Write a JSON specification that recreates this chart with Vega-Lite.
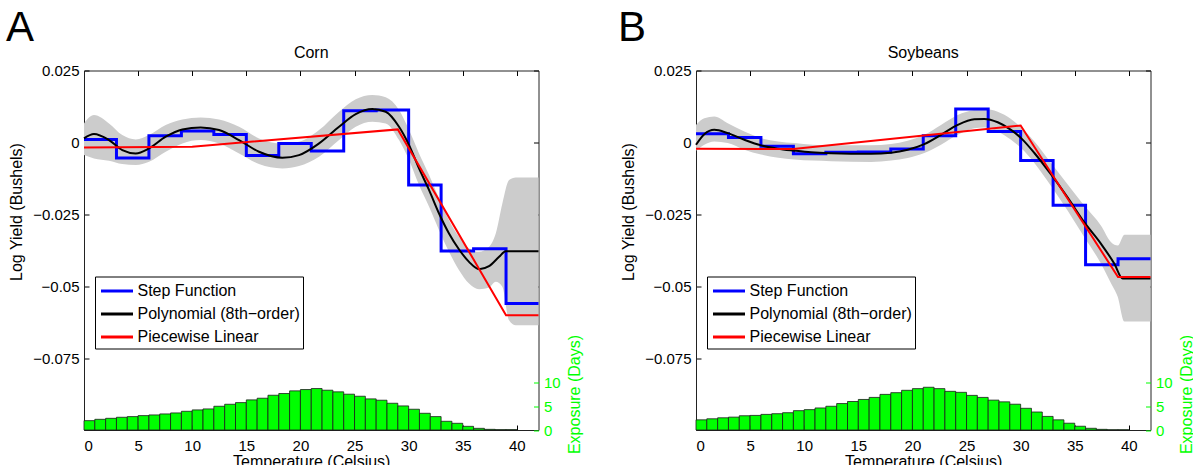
{
  "$schema": "https://vega.github.io/schema/vega-lite/v6.json",
  "padding": {"left": 6, "top": 6.5, "right": 0, "bottom": 0},
  "config": {
    "font": "Liberation Sans",
    "view": {"stroke": null},
    "axis": {"grid": false, "domain": false, "labelFont": "Liberation Sans", "titleFont": "Liberation Sans", "labelFontSize": 15, "titleFontSize": 16, "titleFontWeight": "normal", "labelColor": "#000000", "titleColor": "#000000", "tickColor": "#000000", "domainColor": "#222222"},
    "title": {"font": "Liberation Sans", "fontWeight": "normal", "color": "#000000"},
    "legend": {"orient": "none", "legendX": 11, "legendY": 206, "strokeColor": "#000000", "fillColor": "#ffffff", "padding": 3, "symbolType": "M-1.6,0H1.6", "symbolSize": 400, "symbolStrokeWidth": 3, "labelFontSize": 16, "labelFont": "Liberation Sans", "labelColor": "#000000", "rowPadding": 3, "labelOffset": 9, "symbolOffset": 7.5, "labelLimit": 400, "cornerRadius": 0}
  },
  "datasets": {
    "cornStep": [
      {"t": 0, "v": 0.00104}, {"t": 3, "v": -0.00545}, {"t": 6, "v": 0.00232}, {"t": 9, "v": 0.00394},
      {"t": 12, "v": 0.00278}, {"t": 15, "v": -0.00452}, {"t": 18, "v": -0.00035}, {"t": 21, "v": -0.00302},
      {"t": 24, "v": 0.0110}, {"t": 27, "v": 0.0113}, {"t": 30, "v": -0.01485}, {"t": 33, "v": -0.0378},
      {"t": 36, "v": -0.0370}, {"t": 39, "v": -0.0560}, {"t": 42, "v": -0.0560}
    ],
    "soyStep": [
      {"t": 0, "v": 0.00299}, {"t": 3, "v": 0.00172}, {"t": 6, "v": -0.00138}, {"t": 9, "v": -0.00391},
      {"t": 12, "v": -0.00345}, {"t": 15, "v": -0.00333}, {"t": 18, "v": -0.0023}, {"t": 21, "v": 0.0023},
      {"t": 24, "v": 0.01161}, {"t": 27, "v": 0.00379}, {"t": 30, "v": -0.00632}, {"t": 33, "v": -0.02184},
      {"t": 36, "v": -0.04253}, {"t": 39, "v": -0.04046}, {"t": 42, "v": -0.04046}
    ],
    "cornPw": [
      {"t": 0, "v": -0.00174}, {"t": 10, "v": -0.0015}, {"t": 29, "v": 0.00452}, {"t": 39, "v": -0.0601}, {"t": 42, "v": -0.0601}
    ],
    "soyPw": [
      {"t": 0, "v": -0.00218}, {"t": 9, "v": -0.0023}, {"t": 30, "v": 0.00586}, {"t": 39, "v": -0.0468}, {"t": 42, "v": -0.0468}
    ],
    "cornPoly": [
      {"t": 0, "v": 0.00139}, {"t": 0.92, "v": 0.0029}, {"t": 2.31, "v": 0.00081}, {"t": 3.54, "v": -0.00267},
      {"t": 4.78, "v": -0.00383}, {"t": 6.01, "v": -0.00209}, {"t": 7.55, "v": 0.00197}, {"t": 9.09, "v": 0.00452},
      {"t": 10.78, "v": 0.00522}, {"t": 12.48, "v": 0.00429}, {"t": 14.33, "v": 0.00081}, {"t": 16.17, "v": -0.00325},
      {"t": 18.33, "v": -0.00534}, {"t": 19.87, "v": -0.00441}, {"t": 21.72, "v": -0.00035}, {"t": 23.57, "v": 0.00545},
      {"t": 25.11, "v": 0.00986}, {"t": 26.65, "v": 0.0116}, {"t": 27.88, "v": 0.01067}, {"t": 29.11, "v": 0.00545},
      {"t": 30.04, "v": -0.00093}, {"t": 30.96, "v": -0.00905}, {"t": 31.89, "v": -0.01659}, {"t": 32.81, "v": -0.02471},
      {"t": 33.73, "v": -0.03167}, {"t": 34.66, "v": -0.03724}, {"t": 35.58, "v": -0.04153}, {"t": 36.51, "v": -0.04408},
      {"t": 37.43, "v": -0.04304}, {"t": 38.36, "v": -0.03979}, {"t": 38.97, "v": -0.03782}, {"t": 42, "v": -0.03782}
    ],
    "soyPoly": [
      {"t": 0, "v": -0.0008}, {"t": 0.77, "v": 0.00287}, {"t": 1.69, "v": 0.00437}, {"t": 2.93, "v": 0.00322},
      {"t": 4.47, "v": 0.00092}, {"t": 6.01, "v": -0.00103}, {"t": 7.55, "v": -0.00218}, {"t": 9.09, "v": -0.00287},
      {"t": 10.63, "v": -0.00345}, {"t": 12.48, "v": -0.00379}, {"t": 14.33, "v": -0.00391}, {"t": 16.17, "v": -0.00391},
      {"t": 18.02, "v": -0.00356}, {"t": 19.56, "v": -0.00253}, {"t": 21.1, "v": -0.00057}, {"t": 22.64, "v": 0.00264},
      {"t": 24.18, "v": 0.00609}, {"t": 25.72, "v": 0.00805}, {"t": 26.65, "v": 0.00816}, {"t": 27.88, "v": 0.00701},
      {"t": 29.11, "v": 0.00437}, {"t": 30.04, "v": 0.00149}, {"t": 31.27, "v": -0.00368}, {"t": 32.81, "v": -0.01115},
      {"t": 34.35, "v": -0.0192}, {"t": 35.89, "v": -0.02782}, {"t": 37.43, "v": -0.03529}, {"t": 38.66, "v": -0.04218},
      {"t": 39.43, "v": -0.04736}, {"t": 42, "v": -0.04736}
    ],
    "cornBand": [
      {"t": 0, "lo": -0.00441, "hi": 0.00661}, {"t": 0.92, "lo": -0.00557, "hi": 0.00951}, {"t": 2.31, "lo": -0.00638, "hi": 0.00661},
      {"t": 3.54, "lo": -0.00754, "hi": 0.00255}, {"t": 4.78, "lo": -0.00789, "hi": 0.00104}, {"t": 6.01, "lo": -0.00673, "hi": 0.00255},
      {"t": 7.55, "lo": -0.00325, "hi": 0.00603}, {"t": 9.09, "lo": -0.00035, "hi": 0.008}, {"t": 10.78, "lo": 0.00081, "hi": 0.0087},
      {"t": 12.48, "lo": -0.00035, "hi": 0.008}, {"t": 14.33, "lo": -0.00383, "hi": 0.00545}, {"t": 16.17, "lo": -0.00754, "hi": 0.00139},
      {"t": 18.33, "lo": -0.00905, "hi": -0.00035}, {"t": 19.87, "lo": -0.00824, "hi": 0.00023}, {"t": 21.72, "lo": -0.00499, "hi": 0.00429},
      {"t": 23.57, "lo": 0.00081, "hi": 0.01067}, {"t": 25.11, "lo": 0.00545, "hi": 0.01497}, {"t": 26.65, "lo": 0.00719, "hi": 0.01647},
      {"t": 27.88, "lo": 0.00661, "hi": 0.01566}, {"t": 29.11, "lo": 0.00081, "hi": 0.01125}, {"t": 30.04, "lo": -0.00615, "hi": 0.00429},
      {"t": 30.96, "lo": -0.01485, "hi": -0.00383}, {"t": 31.89, "lo": -0.02239, "hi": -0.01137}, {"t": 32.81, "lo": -0.03051, "hi": -0.01949},
      {"t": 33.73, "lo": -0.03805, "hi": -0.02703}, {"t": 34.66, "lo": -0.04443, "hi": -0.03283}, {"t": 35.58, "lo": -0.04907, "hi": -0.03689},
      {"t": 36.51, "lo": -0.05104, "hi": -0.03805}, {"t": 37.43, "lo": -0.05046, "hi": -0.03631}, {"t": 38.05, "lo": -0.04849, "hi": -0.03167},
      {"t": 38.66, "lo": -0.05023, "hi": -0.02123}, {"t": 39.28, "lo": -0.06183, "hi": -0.01311}, {"t": 39.9, "lo": -0.06357, "hi": -0.01218},
      {"t": 42, "lo": -0.06357, "hi": -0.01218}
    ],
    "soyBand": [
      {"t": 0, "lo": -0.00287, "hi": 0.00609}, {"t": 0.77, "lo": -0.0008, "hi": 0.00839}, {"t": 1.69, "lo": 0.00034, "hi": 0.00897},
      {"t": 2.93, "lo": -0.00023, "hi": 0.00667}, {"t": 4.47, "lo": -0.00253, "hi": 0.00379}, {"t": 6.01, "lo": -0.00425, "hi": 0.00149},
      {"t": 9.09, "lo": -0.00598, "hi": -0.00023}, {"t": 12.48, "lo": -0.00655, "hi": -0.00103}, {"t": 16.17, "lo": -0.00678, "hi": -0.00103},
      {"t": 18.02, "lo": -0.00632, "hi": -0.00057}, {"t": 19.56, "lo": -0.0054, "hi": 0.00057}, {"t": 21.1, "lo": -0.00368, "hi": 0.00264},
      {"t": 22.64, "lo": -0.0008, "hi": 0.00609}, {"t": 24.18, "lo": 0.00264, "hi": 0.00954}, {"t": 25.72, "lo": 0.00494, "hi": 0.01126},
      {"t": 26.65, "lo": 0.00517, "hi": 0.01161}, {"t": 27.88, "lo": 0.00379, "hi": 0.01069}, {"t": 29.11, "lo": 0.00092, "hi": 0.00816},
      {"t": 30.04, "lo": -0.00195, "hi": 0.00517}, {"t": 31.27, "lo": -0.00713, "hi": 0.00034}, {"t": 32.81, "lo": -0.01517, "hi": -0.00713},
      {"t": 34.35, "lo": -0.02379, "hi": -0.0146}, {"t": 35.89, "lo": -0.03299, "hi": -0.02207}, {"t": 37.43, "lo": -0.04218, "hi": -0.02897},
      {"t": 38.36, "lo": -0.04908, "hi": -0.03471}, {"t": 38.97, "lo": -0.05368, "hi": -0.03586}, {"t": 39.59, "lo": -0.0623, "hi": -0.03207},
      {"t": 42, "lo": -0.0623, "hi": -0.03207}
    ],
    "cornExp": [
      {"t": 0, "t_end": 1, "days": 1.97}, {"t": 1, "t_end": 2, "days": 2.25}, {"t": 2, "t_end": 3, "days": 2.46}, {"t": 3, "t_end": 4, "days": 2.68},
      {"t": 4, "t_end": 5, "days": 2.82}, {"t": 5, "t_end": 6, "days": 3.03}, {"t": 6, "t_end": 7, "days": 3.17}, {"t": 7, "t_end": 8, "days": 3.38},
      {"t": 8, "t_end": 9, "days": 3.59}, {"t": 9, "t_end": 10, "days": 3.94}, {"t": 10, "t_end": 11, "days": 4.23}, {"t": 11, "t_end": 12, "days": 4.44},
      {"t": 12, "t_end": 13, "days": 5.0}, {"t": 13, "t_end": 14, "days": 5.42}, {"t": 14, "t_end": 15, "days": 5.77}, {"t": 15, "t_end": 16, "days": 6.34},
      {"t": 16, "t_end": 17, "days": 6.69}, {"t": 17, "t_end": 18, "days": 7.32}, {"t": 18, "t_end": 19, "days": 7.68}, {"t": 19, "t_end": 20, "days": 8.24},
      {"t": 20, "t_end": 21, "days": 8.52}, {"t": 21, "t_end": 22, "days": 8.73}, {"t": 22, "t_end": 23, "days": 8.38}, {"t": 23, "t_end": 24, "days": 8.03},
      {"t": 24, "t_end": 25, "days": 7.54}, {"t": 25, "t_end": 26, "days": 7.11}, {"t": 26, "t_end": 27, "days": 6.55}, {"t": 27, "t_end": 28, "days": 6.27},
      {"t": 28, "t_end": 29, "days": 5.63}, {"t": 29, "t_end": 30, "days": 5.07}, {"t": 30, "t_end": 31, "days": 4.37}, {"t": 31, "t_end": 32, "days": 3.52},
      {"t": 32, "t_end": 33, "days": 2.82}, {"t": 33, "t_end": 34, "days": 1.83}, {"t": 34, "t_end": 35, "days": 1.41}, {"t": 35, "t_end": 36, "days": 0.77},
      {"t": 36, "t_end": 37, "days": 0.35}, {"t": 37, "t_end": 38, "days": 0.14}, {"t": 38, "t_end": 39, "days": 0.07}, {"t": 39, "t_end": 40, "days": 0.07}
    ],
    "soyExp": [
      {"t": 0, "t_end": 1, "days": 2.14}, {"t": 1, "t_end": 2, "days": 2.36}, {"t": 2, "t_end": 3, "days": 2.57}, {"t": 3, "t_end": 4, "days": 2.71},
      {"t": 4, "t_end": 5, "days": 3.0}, {"t": 5, "t_end": 6, "days": 3.07}, {"t": 6, "t_end": 7, "days": 3.29}, {"t": 7, "t_end": 8, "days": 3.43},
      {"t": 8, "t_end": 9, "days": 3.64}, {"t": 9, "t_end": 10, "days": 4.07}, {"t": 10, "t_end": 11, "days": 4.29}, {"t": 11, "t_end": 12, "days": 4.64},
      {"t": 12, "t_end": 13, "days": 5.0}, {"t": 13, "t_end": 14, "days": 5.57}, {"t": 14, "t_end": 15, "days": 6.0}, {"t": 15, "t_end": 16, "days": 6.43},
      {"t": 16, "t_end": 17, "days": 6.86}, {"t": 17, "t_end": 18, "days": 7.5}, {"t": 18, "t_end": 19, "days": 7.86}, {"t": 19, "t_end": 20, "days": 8.36},
      {"t": 20, "t_end": 21, "days": 8.71}, {"t": 21, "t_end": 22, "days": 9.0}, {"t": 22, "t_end": 23, "days": 8.71}, {"t": 23, "t_end": 24, "days": 8.14},
      {"t": 24, "t_end": 25, "days": 7.93}, {"t": 25, "t_end": 26, "days": 7.29}, {"t": 26, "t_end": 27, "days": 6.86}, {"t": 27, "t_end": 28, "days": 6.29},
      {"t": 28, "t_end": 29, "days": 5.93}, {"t": 29, "t_end": 30, "days": 5.43}, {"t": 30, "t_end": 31, "days": 4.57}, {"t": 31, "t_end": 32, "days": 3.79},
      {"t": 32, "t_end": 33, "days": 2.86}, {"t": 33, "t_end": 34, "days": 2.14}, {"t": 34, "t_end": 35, "days": 1.43}, {"t": 35, "t_end": 36, "days": 0.79},
      {"t": 36, "t_end": 37, "days": 0.36}, {"t": 37, "t_end": 38, "days": 0.14}, {"t": 38, "t_end": 39, "days": 0.05}, {"t": 39, "t_end": 40, "days": 0.05}
    ]
  },
  "resolve": {"scale": {"color": "independent"}, "legend": {"color": "independent"}},
  "spacing": 35,
  "hconcat": [
    {
      "title": {"text": "A", "fontSize": 42, "anchor": "start", "frame": "bounds", "offset": -5, "dx": -2},
      "resolve": {"scale": {"color": "independent"}, "legend": {"color": "independent"}},
      "vconcat": [
        {
          "title": {"text": "Corn", "fontSize": 16, "offset": 3, "anchor": "middle", "frame": "group"},
          "width": 454.5,
          "height": 359.5,
          "resolve": {"scale": {"y": "independent"}, "axis": {"x": "independent"}},
          "layer": [
            {
              "resolve": {"axis": {"x": "independent", "y": "independent"}},
              "layer": [
                {
                  "mark": {"type": "rule", "strokeDash": [1, 3], "color": "#000000", "strokeWidth": 1},
                  "encoding": {"y": {"datum": 0, "type": "quantitative", "scale": {"domain": [-0.1, 0.025], "nice": false, "zero": false}, "axis": null}}
                },
                {
                  "data": {"name": "cornBand"},
                  "mark": {"type": "area", "color": "#cccccc", "interpolate": "monotone"},
                  "encoding": {
                    "x": {"field": "t", "type": "quantitative", "scale": {"domain": [0, 42], "nice": false, "zero": false},
                      "axis": {"orient": "bottom", "values": [0, 5, 10, 15, 20, 25, 30, 35, 40], "domain": true, "tickSize": -5, "labelPadding": 13, "labelFontSize": 15, "title": "Temperature (Celsius)", "titleFontSize": 16, "titlePadding": 0}},
                    "y": {"field": "lo", "type": "quantitative", "scale": {"domain": [-0.1, 0.025], "nice": false, "zero": false},
                      "axis": {"orient": "left", "values": [0.025, 0, -0.025, -0.05, -0.075], "format": ".3~f", "domain": true, "tickSize": -5, "labelPadding": 10, "labelFontSize": 15, "title": "Log Yield (Bushels)", "titleFontSize": 16, "titleAngle": 270, "titleX": -68, "titleY": 141, "titleAlign": "center", "titleBaseline": "middle"}},
                    "y2": {"field": "hi"}
                  }
                },
                {
                  "mark": {"type": "rule", "color": "#000000", "strokeWidth": 3},
                  "encoding": {"y": {"datum": -0.075, "type": "quantitative", "scale": {"domain": [-0.1, 0.025], "nice": false, "zero": false}, "axis": null}}
                },
                {
                  "data": {"name": "cornStep"},
                  "mark": {"type": "line", "interpolate": "step-after", "strokeWidth": 3},
                  "encoding": {
                    "x": {"field": "t", "type": "quantitative", "scale": {"domain": [0, 42], "nice": false, "zero": false}, "axis": null},
                    "y": {"field": "v", "type": "quantitative", "scale": {"domain": [-0.1, 0.025], "nice": false, "zero": false}, "axis": null},
                    "color": {"datum": "Step Function", "type": "nominal", "scale": {"domain": ["Step Function", "Polynomial (8th−order)", "Piecewise Linear"], "range": ["#0000ff", "#000000", "#ff0000"]}, "legend": {"title": null}}
                  }
                },
                {
                  "data": {"name": "cornPoly"},
                  "mark": {"type": "line", "strokeWidth": 2, "interpolate": "monotone"},
                  "encoding": {
                    "x": {"field": "t", "type": "quantitative", "scale": {"domain": [0, 42], "nice": false, "zero": false},
                      "axis": {"orient": "top", "values": [5, 10, 15, 20, 25, 30, 35, 40], "domain": true, "labels": false, "tickSize": -5, "title": null}},
                    "y": {"field": "v", "type": "quantitative", "scale": {"domain": [-0.1, 0.025], "nice": false, "zero": false},
                      "axis": {"orient": "right", "values": [0.025, 0, -0.025, -0.05], "domain": true, "labels": false, "tickSize": -5, "title": null}},
                    "color": {"datum": "Polynomial (8th−order)", "type": "nominal"}
                  }
                },
                {
                  "data": {"name": "cornPw"},
                  "mark": {"type": "line", "strokeWidth": 2},
                  "encoding": {
                    "x": {"field": "t", "type": "quantitative", "scale": {"domain": [0, 42], "nice": false, "zero": false}, "axis": null},
                    "y": {"field": "v", "type": "quantitative", "scale": {"domain": [-0.1, 0.025], "nice": false, "zero": false}, "axis": null},
                    "color": {"datum": "Piecewise Linear", "type": "nominal"}
                  }
                }
              ]
            },
            {
              "data": {"name": "cornExp"},
              "mark": {"type": "bar", "fill": "#00ff00", "stroke": "#1a1a1a", "strokeWidth": 0.8},
              "encoding": {
                "x": {"field": "t", "type": "quantitative", "scale": {"domain": [0, 42], "nice": false, "zero": false}, "axis": null},
                "x2": {"field": "t_end"},
                "y": {"field": "days", "type": "quantitative", "scale": {"domain": [0, 75.7], "nice": false, "zero": true},
                  "axis": {"orient": "right", "values": [0, 5, 10], "tickSize": -5, "labelPadding": 10, "labelFontSize": 15, "labelColor": "#00ff00", "tickColor": "#00ff00", "title": "Exposure (Days)", "titleFontSize": 16, "titleColor": "#00ff00", "titleAngle": 270, "titleX": 36, "titleY": 323.5, "titleAlign": "center", "titleBaseline": "middle"}},
                "y2": {"datum": 0}
              }
            }
          ]
        }
      ]
    },
    {
      "title": {"text": "B", "fontSize": 42, "anchor": "start", "frame": "bounds", "offset": -5, "dx": -2},
      "resolve": {"scale": {"color": "independent"}, "legend": {"color": "independent"}},
      "vconcat": [
        {
          "title": {"text": "Soybeans", "fontSize": 16, "offset": 3, "anchor": "middle", "frame": "group"},
          "width": 454.5,
          "height": 359.5,
          "resolve": {"scale": {"y": "independent"}, "axis": {"x": "independent"}},
          "layer": [
            {
              "resolve": {"axis": {"x": "independent", "y": "independent"}},
              "layer": [
                {
                  "mark": {"type": "rule", "strokeDash": [1, 3], "color": "#000000", "strokeWidth": 1},
                  "encoding": {"y": {"datum": 0, "type": "quantitative", "scale": {"domain": [-0.1, 0.025], "nice": false, "zero": false}, "axis": null}}
                },
                {
                  "data": {"name": "soyBand"},
                  "mark": {"type": "area", "color": "#cccccc", "interpolate": "monotone"},
                  "encoding": {
                    "x": {"field": "t", "type": "quantitative", "scale": {"domain": [0, 42], "nice": false, "zero": false},
                      "axis": {"orient": "bottom", "values": [0, 5, 10, 15, 20, 25, 30, 35, 40], "domain": true, "tickSize": -5, "labelPadding": 13, "labelFontSize": 15, "title": "Temperature (Celsius)", "titleFontSize": 16, "titlePadding": 0}},
                    "y": {"field": "lo", "type": "quantitative", "scale": {"domain": [-0.1, 0.025], "nice": false, "zero": false},
                      "axis": {"orient": "left", "values": [0.025, 0, -0.025, -0.05, -0.075], "format": ".3~f", "domain": true, "tickSize": -5, "labelPadding": 10, "labelFontSize": 15, "title": "Log Yield (Bushels)", "titleFontSize": 16, "titleAngle": 270, "titleX": -68, "titleY": 141, "titleAlign": "center", "titleBaseline": "middle"}},
                    "y2": {"field": "hi"}
                  }
                },
                {
                  "mark": {"type": "rule", "color": "#000000", "strokeWidth": 3},
                  "encoding": {"y": {"datum": -0.075, "type": "quantitative", "scale": {"domain": [-0.1, 0.025], "nice": false, "zero": false}, "axis": null}}
                },
                {
                  "data": {"name": "soyStep"},
                  "mark": {"type": "line", "interpolate": "step-after", "strokeWidth": 3},
                  "encoding": {
                    "x": {"field": "t", "type": "quantitative", "scale": {"domain": [0, 42], "nice": false, "zero": false}, "axis": null},
                    "y": {"field": "v", "type": "quantitative", "scale": {"domain": [-0.1, 0.025], "nice": false, "zero": false}, "axis": null},
                    "color": {"datum": "Step Function", "type": "nominal", "scale": {"domain": ["Step Function", "Polynomial (8th−order)", "Piecewise Linear"], "range": ["#0000ff", "#000000", "#ff0000"]}, "legend": {"title": null}}
                  }
                },
                {
                  "data": {"name": "soyPoly"},
                  "mark": {"type": "line", "strokeWidth": 2, "interpolate": "monotone"},
                  "encoding": {
                    "x": {"field": "t", "type": "quantitative", "scale": {"domain": [0, 42], "nice": false, "zero": false},
                      "axis": {"orient": "top", "values": [5, 10, 15, 20, 25, 30, 35, 40], "domain": true, "labels": false, "tickSize": -5, "title": null}},
                    "y": {"field": "v", "type": "quantitative", "scale": {"domain": [-0.1, 0.025], "nice": false, "zero": false},
                      "axis": {"orient": "right", "values": [0.025, 0, -0.025, -0.05], "domain": true, "labels": false, "tickSize": -5, "title": null}},
                    "color": {"datum": "Polynomial (8th−order)", "type": "nominal"}
                  }
                },
                {
                  "data": {"name": "soyPw"},
                  "mark": {"type": "line", "strokeWidth": 2},
                  "encoding": {
                    "x": {"field": "t", "type": "quantitative", "scale": {"domain": [0, 42], "nice": false, "zero": false}, "axis": null},
                    "y": {"field": "v", "type": "quantitative", "scale": {"domain": [-0.1, 0.025], "nice": false, "zero": false}, "axis": null},
                    "color": {"datum": "Piecewise Linear", "type": "nominal"}
                  }
                }
              ]
            },
            {
              "data": {"name": "soyExp"},
              "mark": {"type": "bar", "fill": "#00ff00", "stroke": "#1a1a1a", "strokeWidth": 0.8},
              "encoding": {
                "x": {"field": "t", "type": "quantitative", "scale": {"domain": [0, 42], "nice": false, "zero": false}, "axis": null},
                "x2": {"field": "t_end"},
                "y": {"field": "days", "type": "quantitative", "scale": {"domain": [0, 75.7], "nice": false, "zero": true},
                  "axis": {"orient": "right", "values": [0, 5, 10], "tickSize": -5, "labelPadding": 10, "labelFontSize": 15, "labelColor": "#00ff00", "tickColor": "#00ff00", "title": "Exposure (Days)", "titleFontSize": 16, "titleColor": "#00ff00", "titleAngle": 270, "titleX": 36, "titleY": 323.5, "titleAlign": "center", "titleBaseline": "middle"}},
                "y2": {"datum": 0}
              }
            }
          ]
        }
      ]
    }
  ]
}
